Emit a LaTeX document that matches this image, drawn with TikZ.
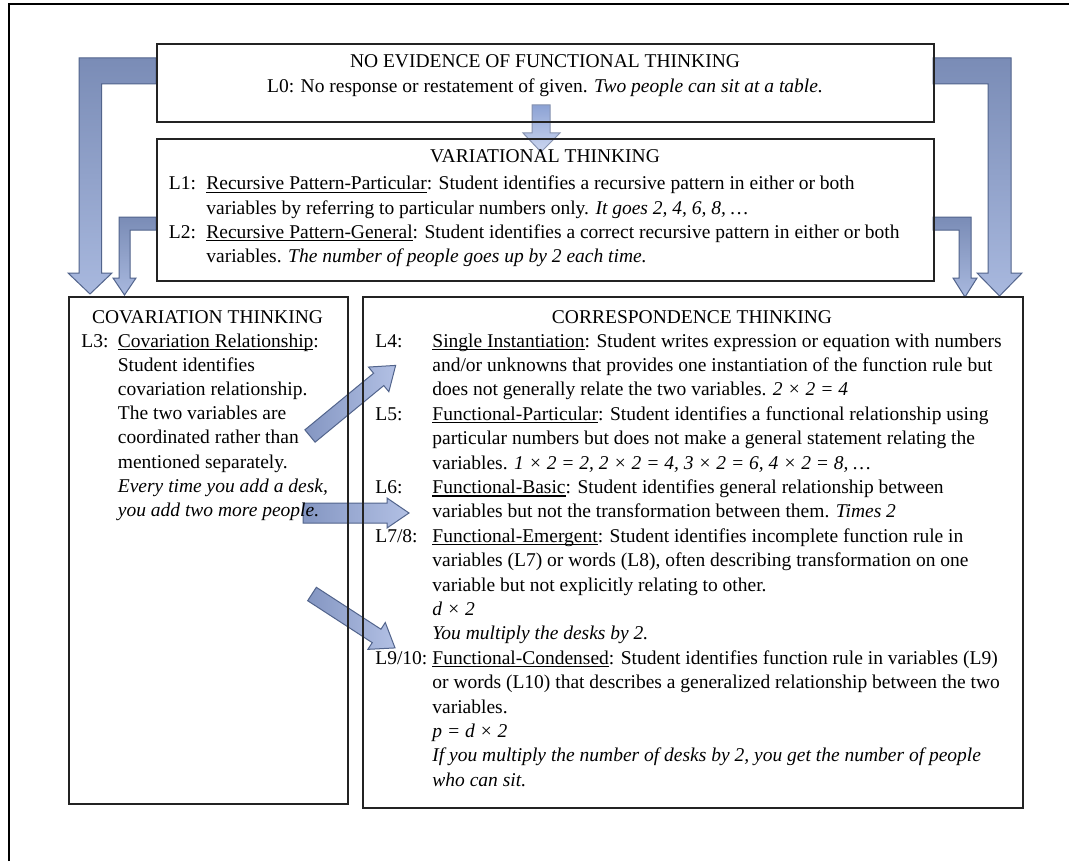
\documentclass[tikz,border=0pt]{standalone}
\usepackage{fontspec}
\setmainfont{Liberation Serif}
\definecolor{arrdraw}{RGB}{82,100,140}
\definecolor{arrtop}{RGB}{122,140,182}
\definecolor{arrbot}{RGB}{168,184,222}
\definecolor{flatl}{RGB}{132,150,194}
\definecolor{flatr}{RGB}{178,192,228}
\definecolor{midtop}{RGB}{140,162,212}
\definecolor{midbot}{RGB}{205,215,240}
\definecolor{boxline}{RGB}{35,35,35}
\newcommand\diagfont{\fontsize{9.75pt}{12.1pt}\selectfont}
\newcommand\undl[1]{\setbox0=\hbox{#1}\rlap{\rule[-1.6pt]{\wd0}{0.7pt}}\box0}
\tikzset{
  frameline/.style={line width=1.2pt, black},
  boxshape/.style={draw=boxline, line width=1pt, inner sep=0pt, anchor=north west},
  bentarrow/.style={draw=arrdraw, line width=0.5pt, top color=arrtop, bottom color=arrbot},
  blockarr/.style={draw=arrdraw, line width=0.5pt, left color=flatl, right color=flatr},
  midarr/.style={draw=arrdraw!70, line width=0.5pt, top color=midtop, bottom color=midbot},
  ttl/.style={anchor=base, inner sep=0pt, font=\diagfont},
  ln/.style={anchor=base west, inner sep=0pt, font=\diagfont},
}
\newcommand\flatarrow[6]{% tail, angle, length, shaft half, head half, head length
  \path[blockarr, shift={#1}, rotate=#2] (0,-#4) -- (#3-#6,-#4) -- (#3-#6,-#5) -- (#3,0) -- (#3-#6,#5) -- (#3-#6,#4) -- (0,#4) -- cycle;}
\begin{document}
\begin{tikzpicture}[x=0.5pt,y=-0.5pt]
\useasboundingbox (0,0) rectangle (1069,861);
\fill[white] (0,0) rectangle (1069,861);
\draw[frameline] (9,861) -- (9,4) -- (1069,4);

% bent arrows
\path[bentarrow] (156,58) -- (79,58) -- (79,273) -- (68,273) -- (90,294) -- (112,273) -- (101.5,273) -- (101.5,84) -- (156,84) -- cycle;
\path[bentarrow] (156,217) -- (119,217) -- (119,278) -- (113,278) -- (124.5,295) -- (136,278) -- (130,278) -- (130,230) -- (156,230) -- cycle;
\path[bentarrow] (933,58) -- (1011,58) -- (1011,273) -- (1022,273) -- (999.5,296) -- (977,273) -- (988,273) -- (988,84) -- (933,84) -- cycle;
\path[bentarrow] (933,217) -- (971,217) -- (971,278) -- (977,278) -- (965,297) -- (953,278) -- (959,278) -- (959,230) -- (933,230) -- cycle;
% middle down arrow
\path[midarr] (532,105) -- (550,105) -- (550,133) -- (560,133) -- (541,152) -- (523,133) -- (532,133) -- cycle;
% block arrows from covariation to correspondence
\flatarrow{(310,436)}{39.5}{111}{8}{16}{22}
\flatarrow{(303,513)}{0}{106}{10}{15}{22}
\flatarrow{(312,594)}{-33}{99}{8}{16}{22}

% boxes
\node[boxshape, minimum width=388.5pt, minimum height=38.75pt] (nobox) at (156,43.5) {};
\node[boxshape, minimum width=388.5pt, minimum height=71pt] (varbox) at (156,138) {};
\node[boxshape, minimum width=139.5pt, minimum height=253.5pt] (covbox) at (68,296) {};
\node[boxshape, minimum width=330pt, minimum height=255.5pt] (corbox) at (362,296) {};

% top box text
\node[ttl] (t0) at (545,68) {NO EVIDENCE OF FUNCTIONAL THINKING};
\node[ttl] (l0) at (545,92.5) {L0: No response or restatement of given. \textit{Two people can sit at a table.}};

% variational
\node[ttl] (t1) at (545,163) {VARIATIONAL THINKING};
\node[ln] (l1lab) at (168.5,190) {L1:};
\node[ln] (l1a) at (206,190) {\undl{Recursive Pattern-Particular}: Student identifies a recursive pattern in either or both};
\node[ln] (l1b) at (206,214) {variables by referring to particular numbers only. \textit{It goes 2, 4, 6, 8, …}};
\node[ln] (l2lab) at (168.5,238) {L2:};
\node[ln] (l2a) at (206,238) {\undl{Recursive Pattern-General}: Student identifies a correct recursive pattern in either or both};
\node[ln] (l2b) at (206,262) {variables. \textit{The number of people goes up by 2 each time.}};

% covariation
\node[ttl] (t3) at (207.5,323) {COVARIATION THINKING};
\node[ln] (l3lab) at (81,347) {L3:};
\node[ln] (l3a) at (117.5,347) {\undl{Covariation Relationship}:};
\node[ln] (l3b) at (117.5,371.2) {Student identifies};
\node[ln] (l3c) at (117.5,395.4) {covariation relationship.};
\node[ln] (l3d) at (117.5,419.6) {The two variables are};
\node[ln] (l3e) at (117.5,443.8) {coordinated rather than};
\node[ln] (l3f) at (117.5,468) {mentioned separately.};
\node[ln] (l3g) at (117.5,492.2) {\textit{Every time you add a desk,}};
\node[ln] (l3h) at (117.5,516.4) {\textit{you add two more people.}};

% correspondence
\node[ttl] (t4) at (692,323) {CORRESPONDENCE THINKING};
\node[ln] (l4lab) at (375,347) {L4:};
\node[ln] (l4a) at (432,347) {\undl{Single Instantiation}: Student writes expression or equation with numbers};
\node[ln] (l4b) at (432,371.4) {and/or unknowns that provides one instantiation of the function rule but};
\node[ln] (l4c) at (432,395.8) {does not generally relate the two variables. \textit{2 × 2 = 4}};
\node[ln] (l5lab) at (375,420.2) {L5:};
\node[ln] (l5a) at (432,420.2) {\undl{Functional-Particular}: Student identifies a functional relationship using};
\node[ln] (l5b) at (432,444.6) {particular numbers but does not make a general statement relating the};
\node[ln] (l5c) at (432,469) {variables. \textit{1 × 2 = 2, 2 × 2 = 4, 3 × 2 = 6, 4 × 2 = 8, …}};
\node[ln] (l6lab) at (375,493.4) {L6:};
\node[ln] (l6a) at (432,493.4) {\undl{Functional-Basic}: Student identifies general relationship between};
\node[ln] (l6b) at (432,517.8) {variables but not the transformation between them. \textit{Times 2}};
\node[ln] (l7lab) at (375,542.2) {L7/8:};
\node[ln] (l7a) at (432,542.2) {\undl{Functional-Emergent}: Student identifies incomplete function rule in};
\node[ln] (l7b) at (432,566.6) {variables (L7) or words (L8), often describing transformation on one};
\node[ln] (l7c) at (432,591) {variable but not explicitly relating to other.};
\node[ln] (l7d) at (432,615.4) {\textit{d × 2}};
\node[ln] (l7e) at (432,639.8) {\textit{You multiply the desks by 2.}};
\node[ln] (l9lab) at (375,664.2) {L9/10:};
\node[ln] (l9a) at (432,664.2) {\undl{Functional-Condensed}: Student identifies function rule in variables (L9)};
\node[ln] (l9b) at (432,688.6) {or words (L10) that describes a generalized relationship between the two};
\node[ln] (l9c) at (432,713) {variables.};
\node[ln] (l9d) at (432,737.4) {\textit{p = d × 2}};
\node[ln] (l9e) at (432,761.8) {\textit{If you multiply the number of desks by 2, you get the number of people}};
\node[ln] (l9f) at (432,786.2) {\textit{who can sit.}};
\end{tikzpicture}
\end{document}
